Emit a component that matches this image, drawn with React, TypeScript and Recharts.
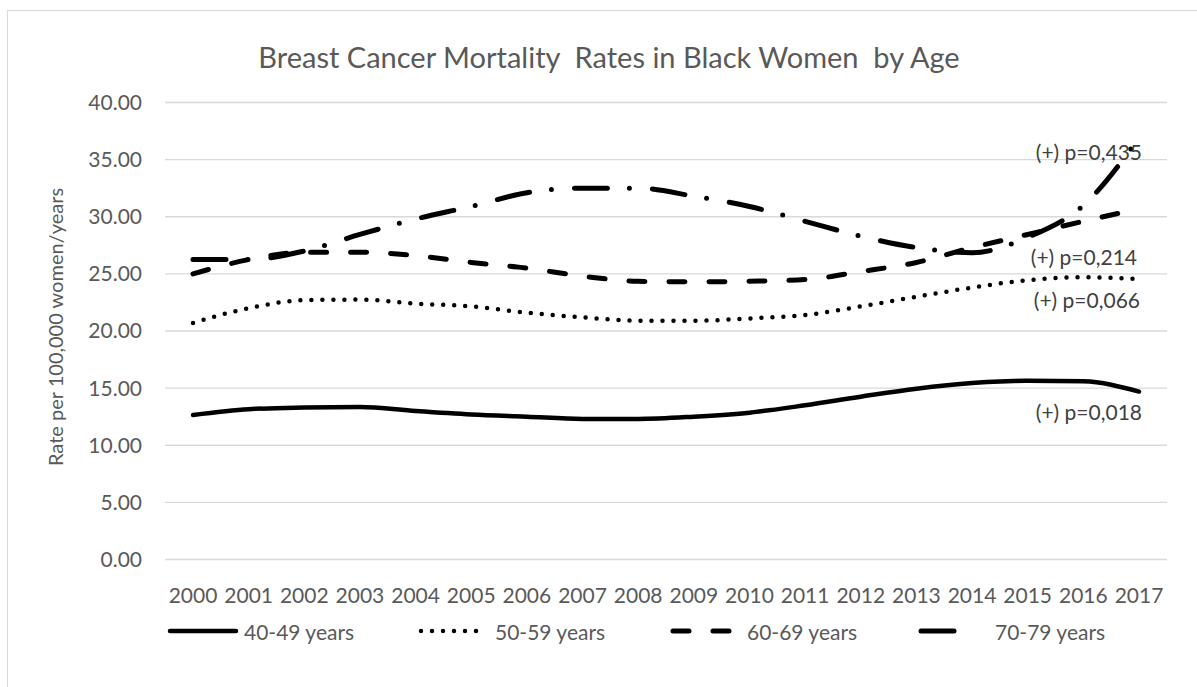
import React from 'react';
import { LineChart, Line, XAxis, YAxis, CartesianGrid, Label } from 'recharts';

const years = [
  '2000', '2001', '2002', '2003', '2004', '2005', '2006', '2007', '2008',
  '2009', '2010', '2011', '2012', '2013', '2014', '2015', '2016', '2017',
];

// rates per 100,000 women/years
const rate4049 = [12.65, 13.15, 13.3, 13.35, 13.0, 12.7, 12.5, 12.3, 12.3, 12.5, 12.85, 13.5, 14.25, 14.95, 15.45, 15.65, 15.6, 14.7];
const rate5059 = [20.7, 22.0, 22.7, 22.75, 22.4, 22.15, 21.6, 21.2, 20.9, 20.9, 21.1, 21.4, 22.15, 23.0, 23.8, 24.45, 24.7, 24.55];
const rate6069 = [25.0, 26.25, 26.9, 26.9, 26.6, 26.0, 25.5, 24.8, 24.35, 24.3, 24.35, 24.5, 25.2, 26.0, 27.3, 28.45, 29.6, 30.7];
const rate7079 = [26.25, 26.25, 27.0, 28.45, 29.8, 30.9, 32.1, 32.5, 32.5, 31.8, 30.9, 29.6, 28.3, 27.3, 26.85, 28.2, 31.0, 36.9];

const seriesNames = ['40-49 years', '50-59 years', '60-69 years', '70-79 years'];
const trendLabels = ['(+) p=0,018', '(+) p=0,066', '(+) p=0,214', '(+) p=0,435'];
const yTicks = [0, 5, 10, 15, 20, 25, 30, 35, 40];

const data = years.map((year, i) => ({
  year,
  r40: rate4049[i],
  r50: rate5059[i],
  r60: rate6069[i],
  r70: rate7079[i],
}));

const FONT = 'Lato, "Liberation Sans", sans-serif';
const GRAY = '#595959';

interface SeriesStyle {
  key: string;
  name: string;
  label: string;
  width: number;
  dash?: string;
  labelDx: number;
  labelDy: number;
}

const SERIES: SeriesStyle[] = [
  { key: 'r40', name: seriesNames[0], label: trendLabels[0], width: 4.5, labelDx: 3, labelDy: 20 },
  { key: 'r50', name: seriesNames[1], label: trendLabels[1], width: 4.5, dash: '0 11', labelDx: 1, labelDy: 20 },
  { key: 'r60', name: seriesNames[2], label: trendLabels[2], width: 5, dash: '16 24', labelDx: -2, labelDy: 48 },
  { key: 'r70', name: seriesNames[3], label: trendLabels[3], width: 5, dash: '33 22 0 23', labelDx: 3, labelDy: 14 },
];

// only the last point of each series gets its trend label
function endLabel(text: string, dx: number, dy: number) {
  return (props: any) => {
    const { index } = props;
    if (index !== years.length - 1) return null;
    const x = props.x ?? props.viewBox?.x;
    const y = props.y ?? props.viewBox?.y;
    return (
      <text
        x={x + dx}
        y={y + dy}
        textAnchor="end"
        dominantBaseline="central"
        fontFamily={FONT}
        fontSize={21}
        fill="#404040"
      >
        {text}
      </text>
    );
  };
}

function YTitle(props: any) {
  const { viewBox } = props;
  const cx = viewBox.x + 47;
  const cy = viewBox.y + viewBox.height / 2 - 4;
  return (
    <text
      x={cx}
      y={cy}
      transform={`rotate(-90 ${cx} ${cy})`}
      textAnchor="middle"
      dominantBaseline="central"
      fontFamily={FONT}
      fontSize={20}
      fill={GRAY}
    >
      Rate per 100,000 women/years
    </text>
  );
}

function LegendRow() {
  const starts = [159, 410, 662, 910];
  return (
    <>
      {SERIES.map((s, i) => (
        <div
          key={s.key}
          style={{
            position: 'absolute',
            left: starts[i],
            top: 608,
            height: 24,
            display: 'flex',
            alignItems: 'center',
            fontFamily: FONT,
            fontSize: 21,
            color: GRAY,
            whiteSpace: 'nowrap',
          }}
        >
          <svg width={72} height={12} style={{ marginRight: 5 }}>
            <line
              x1={3}
              y1={6}
              x2={i === 3 ? 49 : 69}
              y2={6}
              stroke="#000"
              strokeWidth={s.width}
              strokeLinecap="round"
              strokeDasharray={s.dash}
            />
          </svg>
          <span>{s.name}</span>
        </div>
      ))}
    </>
  );
}

export default function App() {
  return (
    <div
      style={{
        position: 'fixed',
        left: 7,
        top: 10,
        width: 1195,
        height: 690,
        borderTop: '1px solid #d9d9d9',
        borderLeft: '1px solid #d9d9d9',
        background: '#fff',
      }}
    >
      <div
        style={{
          position: 'absolute',
          left: 0,
          width: 1202,
          top: 31,
          textAlign: 'center',
          fontFamily: FONT,
          fontSize: 29,
          lineHeight: '30px',
          color: GRAY,
          whiteSpace: 'pre',
        }}
      >
        Breast Cancer Mortality  Rates in Black Women  by Age
      </div>

      <div style={{ position: 'absolute', left: 0, top: 0 }}>
        <LineChart
          width={1175}
          height={640}
          data={data}
          margin={{ top: 91.5, right: 16, left: 0, bottom: 61.5 }}
        >
          <CartesianGrid vertical={false} stroke="#d9d9d9" strokeWidth={1.3} />
          <XAxis
            dataKey="year"
            height={30}
            axisLine={false}
            tickLine={false}
            tickSize={0}
            tickMargin={29}
            padding={{ left: 28, right: 28 }}
            interval={0}
            tick={{ fontFamily: FONT, fontSize: 21, fill: GRAY }}
          />
          <YAxis
            width={157}
            domain={[0, 40]}
            ticks={yTicks}
            axisLine={false}
            tickLine={false}
            tickSize={0}
            tickMargin={23}
            tickFormatter={(v: number) => v.toFixed(2)}
            tick={{ fontFamily: FONT, fontSize: 21, fill: GRAY }}
          >
            <Label content={<YTitle />} />
          </YAxis>
          {SERIES.map((s) => (
            <Line
              key={s.key}
              dataKey={s.key}
              name={s.name}
              type="monotone"
              stroke="#000"
              strokeWidth={s.width}
              strokeDasharray={s.dash}
              strokeLinecap="round"
              dot={false}
              activeDot={false}
              isAnimationActive={false}
              label={endLabel(s.label, s.labelDx, s.labelDy)}
            />
          ))}
        </LineChart>
      </div>

      <LegendRow />
    </div>
  );
}
